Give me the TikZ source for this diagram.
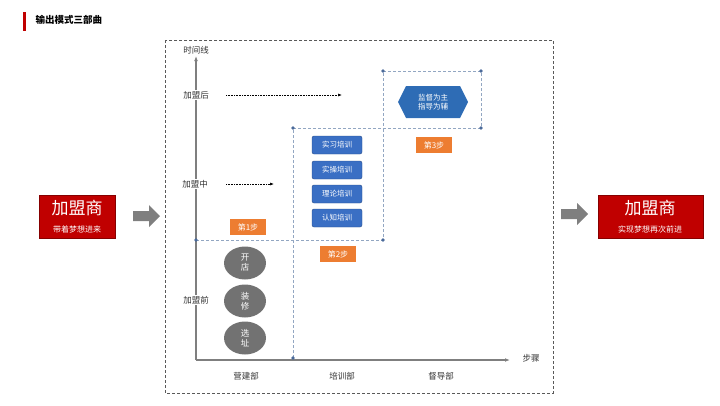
\documentclass[tikz,border=0pt]{standalone}
\usepackage{fontspec}
\setmainfont{Noto Sans CJK SC}
\usetikzlibrary{shapes.geometric,arrows.meta}
\definecolor{red1}{HTML}{C00000}
\definecolor{blue1}{HTML}{3A6FC4}
\definecolor{blue2}{HTML}{2E6CB5}
\definecolor{org}{HTML}{ED7D31}
\definecolor{gr}{HTML}{7F7F7F}
\definecolor{dot}{HTML}{4A6A9A}
\tikzset{
 lbl/.style={font=\fontsize{8.5}{9}\selectfont, text=black!80},
 blu/.style={rectangle, rounded corners=2pt, fill=blue1, draw=blue1!70!black, minimum width=50pt, minimum height=18pt, inner sep=0pt, text=white, font=\fontsize{7.5}{8}\selectfont},
 org/.style={rectangle, fill=org, minimum width=36pt, minimum height=16pt, inner sep=0pt, text=white, font=\fontsize{8}{8}\selectfont},
 ell/.style={ellipse, fill=gr!90!black, minimum width=42pt, minimum height=33pt, inner sep=0pt, text=white, font=\fontsize{8.5}{10}\selectfont, align=center},
 dsh/.style={draw=dot!60, densely dashed, line width=0.5pt},
 pt/.style={circle, fill=dot, inner sep=1.3pt},
 redbox/.style={rectangle, fill=red1, draw=red1!70!black, inner sep=0pt},
 dotarr/.style={densely dotted, line width=0.6pt, -{Latex[length=4pt]}},
}
\begin{document}
\begin{tikzpicture}[x=1pt,y=-1pt]
\useasboundingbox (0,0) rectangle (720,405);
\fill[red1] (23,12) rectangle (26,31);
\node[anchor=west, font=\bfseries\fontsize{9.5}{10}\selectfont] (title) at (32,20) {输出模式三部曲};
\draw[densely dashed, gray!70!black, line width=0.6pt] (165,40) rectangle (553,393);
\coordinate (o) at (196,360);
\coordinate (ytop) at (196,56);
\coordinate (xend) at (510,360);
\draw[gr, line width=1.3pt, -{Latex[length=5pt]}] (o) -- (ytop);
\draw[gr, line width=1.3pt, -{Latex[length=5pt]}] (o) -- (xend);
\node[lbl] (tl) at (196,50) {时间线};
\node[lbl] (bz) at (531,358) {步骤};
\node[lbl, fill=white, inner sep=1pt] (h) at (196,95) {加盟后};
\node[lbl, fill=white, inner sep=1pt] (m) at (195,184) {加盟中};
\node[lbl, fill=white, inner sep=1pt] (q) at (196,300) {加盟前};
\coordinate (h1) at (226,95); \coordinate (h2) at (342,95);
\coordinate (m1) at (226,184); \coordinate (m2) at (274,184);
\draw[dotarr] (h1) -- (h2);
\draw[dotarr] (m1) -- (m2);
\coordinate (a) at (196,240); \coordinate (b) at (383,240);
\coordinate (c) at (293,128); \coordinate (d) at (481,128);
\coordinate (e) at (383,71); \coordinate (f) at (481,71);
\coordinate (g) at (293,358);
\draw[dsh] (a) -- (b) -- (383,128);
\draw[dsh] (g) -- (c) -- (d) -- (f) -- (e) -- (383,128);
\foreach \p in {a,b,c,d,e,f,g} \node[pt] at (\p) {};
\node[org] (s1) at (248,227) {第1步};
\node[org] (s2) at (338,254) {第2步};
\node[org] (s3) at (434,145) {第3步};
\node[blu] (b1) at (337,145) {实习培训};
\node[blu] (b2) at (337,170) {实操培训};
\node[blu] (b3) at (337,194) {理论培训};
\node[blu] (b4) at (337,218) {认知培训};
\fill[blue2] (398,102) -- (406,86) -- (460,86) -- (468,102) -- (460,118) -- (406,118) -- cycle;
\node[text=white, align=center, font=\fontsize{7.5}{9.5}\selectfont] (hex) at (433,102) {监督为主\\指导为辅};
\node[ell] (e1) at (245,263) {开\\店};
\node[ell] (e2) at (245,301) {装\\修};
\node[ell] (e3) at (245,338) {选\\址};
\node[lbl] (d1) at (246,376) {营建部};
\node[lbl] (d2) at (342,376) {培训部};
\node[lbl] (d3) at (441,376) {督导部};
\node[redbox, minimum width=76pt, minimum height=43pt] (L) at (77,216.5) {};
\node[text=white, font=\fontsize{17}{18}\selectfont] (Lt) at (77,208) {加盟商};
\node[text=white, font=\fontsize{8}{8}\selectfont] (Ls) at (77,229) {带着梦想进来};
\node[redbox, minimum width=105pt, minimum height=43pt] (R) at (650.5,216.5) {};
\node[text=white, font=\fontsize{17}{18}\selectfont] (Rt) at (650,208) {加盟商};
\node[text=white, font=\fontsize{8}{8}\selectfont] (Rs) at (650,229) {实现梦想再次前进};
\fill[gr] (133,211) -- (149,211) -- (149,205) -- (160,216) -- (149,227) -- (149,221) -- (133,221) -- cycle;
\fill[gr] (561,209) -- (577,209) -- (577,203) -- (588,214) -- (577,225) -- (577,219) -- (561,219) -- cycle;
\end{tikzpicture}
\end{document}
